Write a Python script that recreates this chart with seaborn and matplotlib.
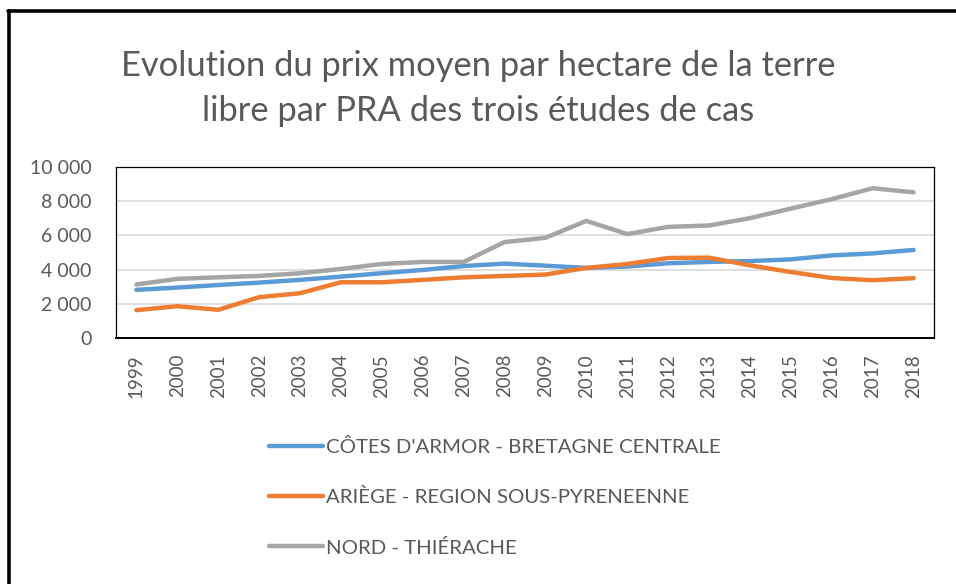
import pandas as pd
import seaborn as sns
import matplotlib.pyplot as plt
from matplotlib.lines import Line2D
from matplotlib.ticker import FuncFormatter

# Values
years = list(range(1999, 2019))
cotes_armor = [2820, 2950, 3100, 3240, 3400, 3590, 3790, 3980, 4210, 4350,
               4230, 4100, 4180, 4370, 4450, 4500, 4600, 4830, 4950, 5150]
ariege = [1630, 1860, 1650, 2390, 2620, 3260, 3260, 3400, 3550, 3630,
          3710, 4100, 4330, 4680, 4700, 4250, 3860, 3510, 3380, 3500]
nord = [3130, 3460, 3550, 3630, 3790, 4040, 4330, 4450, 4450, 5610,
        5860, 6850, 6080, 6500, 6580, 7010, 7570, 8120, 8760, 8520]

series_names = ["CÔTES D'ARMOR - BRETAGNE CENTRALE",
                "ARIÈGE - REGION SOUS-PYRENEENNE",
                "NORD - THIÉRACHE"]
colors = ["#5B9BD5", "#ED7D31", "#A5A5A5"]

df = pd.DataFrame({
    "Year": years * 3,
    "Prix": cotes_armor + ariege + nord,
    "Serie": [series_names[0]] * 20 + [series_names[1]] * 20 + [series_names[2]] * 20,
})

sns.set_style("white")
plt.rcParams["font.family"] = ["Lato", "DejaVu Sans"]
grey = "#595959"

fig = plt.figure(figsize=(9.56, 5.84), dpi=100)
ax = fig.add_axes([0.1213, 0.4212, 0.8557, 0.2928])

sns.lineplot(data=df, x="Year", y="Prix", hue="Serie", palette=colors,
             linewidth=3.2, ax=ax, legend=False, solid_capstyle="round")

ax.set_xlim(1998.5, 2018.5)
ax.set_ylim(0, 10000)
ax.set_xticks(years)
ax.set_xticklabels([str(y) for y in years], rotation=90, fontsize=13.5, color=grey)
ax.set_yticks(range(0, 10001, 2000))
ax.yaxis.set_major_formatter(FuncFormatter(lambda v, p: f"{int(v):,}".replace(",", " ")))
ax.tick_params(axis="y", labelsize=14, labelcolor=grey, length=0, pad=17.5)
ax.tick_params(axis="x", length=0, pad=11.5)
ax.set_xlabel("")
ax.set_ylabel("")
ax.grid(axis="y", color="#D9D9D9", linewidth=1.2)
ax.set_axisbelow(True)
for s in ax.spines.values():
    s.set_color("#000000")
    s.set_linewidth(0.9)
ax.spines["bottom"].set_linewidth(1.4)

fig.text(0.5, 0.849, "Evolution du prix moyen par hectare de la terre\nlibre par PRA des trois études de cas",
         ha="center", va="center", fontsize=24.8, color=grey, linespacing=1.5)

handles = [Line2D([0], [0], color=c, lw=3.2, solid_capstyle="round") for c in colors]
fig.legend(handles, series_names, loc="upper left", bbox_to_anchor=(0.262, 0.281),
           frameon=False, fontsize=14.7, labelcolor=grey, handlelength=2.65,
           handletextpad=0.15, labelspacing=1.575)

# outer frame of the chart (left and top edges visible in the crop)
fig.add_artist(Line2D([0.0095, 0.0095], [0, 0.982], color="black", lw=2.6, transform=fig.transFigure))
fig.add_artist(Line2D([0.0085, 1.0], [0.981, 0.981], color="black", lw=2.6, transform=fig.transFigure))

fig.savefig("out.png", dpi=100)
